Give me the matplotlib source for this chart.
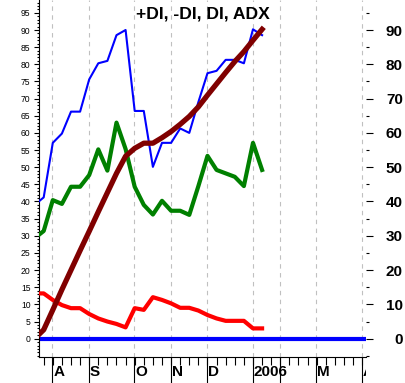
import numpy as np
import matplotlib
matplotlib.use('Agg')
import matplotlib.pyplot as plt
from matplotlib.ticker import FixedLocator, MultipleLocator, NullFormatter

plt.rcParams['font.family'] = ['Liberation Sans', 'DejaVu Sans']

# Weekly bars; bar -1 is the partial one cut by the left edge
weeks = np.arange(-1, 25)
plus_di = [39, 41.2, 57.1, 59.8, 66.2, 66.2, 75.6, 80.3, 81, 88.5, 90, 66.4, 66.4,
           50.1, 57.1, 57.1, 61.3, 60, 69, 77.4, 78.1, 81.3, 81.3, 80.3, 90.2, 88.5]
minus_di = [13.2, 13.2, 11.3, 9.8, 8.9, 8.9, 7.2, 5.9, 5, 4.3, 3.3, 8.9, 8.4,
            12.1, 11.3, 10.3, 9.0, 9.0, 8.2, 6.9, 5.9, 5.2, 5.2, 5.2, 3.0, 3.0]
di = [29.3, 31.4, 40.4, 39.3, 44.3, 44.3, 47.7, 55.2, 49, 63, 55.3, 44.3, 39,
      36.2, 40.2, 37.3, 37.3, 36.1, 44.5, 53.3, 49.2, 48.2, 47.2, 44.5, 57.1, 49.2]
adx = [0, 2.6, 8.4, 14.3, 20, 25.7, 31.3, 37, 42.6, 48.2, 53.2, 55.5, 57, 57,
       58.6, 60.4, 62.5, 64.8, 67.6, 71, 74.3, 77.6, 80.8, 83.7, 87, 90.2]
baseline = 0.0

# first bar of each month (bar index) and its label
month_bar = [1, 5, 10, 14, 18, 23, 26, 30, 35]
month_lab = ['A', 'S', 'O', 'N', 'D', '2006', '', 'M', 'A']
month_pos = [b - 0.05 for b in month_bar]

W, H = 405, 383
fig = plt.figure(figsize=(W / 100, H / 100), dpi=100)
left, right, bottom = 39 / W, 366 / W, 26 / H
ax = fig.add_axes([left, bottom, right - left, 1 - bottom])
xlim = (-0.516, 35.42)
ylim = (-5.34, 98.75)

# grid first
for p in month_pos:
    ax.axvline(p, color='#c0c0c0', lw=0.8, ls=(0, (4, 4)), zorder=1)

ax.axhline(baseline, color='#0000ff', lw=3.0, zorder=2, solid_capstyle='butt')
ax.plot(weeks, plus_di, color='#0000ff', lw=1.5, zorder=3)
ax.plot(weeks, minus_di, color='#ff0000', lw=3.0, zorder=4)
ax.plot(weeks, di, color='#008000', lw=3.0, zorder=5)
ax.plot(weeks, adx, color='#800000', lw=3.8, zorder=6)

ax.set_xlim(*xlim)
ax.set_ylim(*ylim)
for s in ['top', 'right']:
    ax.spines[s].set_visible(False)
for s in ['left', 'bottom']:
    ax.spines[s].set_linewidth(0.8)

# bottom axis: weekly minor ticks, long month ticks
ax.xaxis.set_major_locator(FixedLocator(month_pos))
ax.xaxis.set_minor_locator(FixedLocator(np.arange(0, 36)))
ax.xaxis.set_major_formatter(NullFormatter())
ax.tick_params(axis='x', which='major', direction='out', length=19, width=0.8)
ax.tick_params(axis='x', which='minor', direction='out', length=5.8, width=0.8)

# left axis
ax.yaxis.set_major_locator(FixedLocator(np.arange(0, 100, 5)))
ax.yaxis.set_minor_locator(MultipleLocator(1))
ax.tick_params(axis='y', which='major', direction='out', length=3.6, width=0.8,
               labelsize=6.2, pad=2.5)
ax.tick_params(axis='y', which='minor', direction='out', length=1.8, width=0.8)

# right axis
ax2 = ax.twinx()
ax2.set_ylim(*ylim)
for s in ax2.spines.values():
    s.set_visible(False)
ax2.yaxis.set_major_locator(FixedLocator(np.arange(0, 100, 10)))
ax2.yaxis.set_minor_locator(FixedLocator(np.arange(-5, 100, 10)))
ax2.tick_params(axis='y', which='major', direction='out', length=5, width=0.8,
                labelsize=11, pad=21.5)
ax2.tick_params(axis='y', which='minor', direction='out', length=2, width=0.8)
for t in ax2.get_yticklabels():
    t.set_fontweight('bold')
    t.set_horizontalalignment('right')

ax.text(0.5, 1 - 14 / 357, '+DI, -DI, DI, ADX', transform=ax.transAxes,
        ha='center', va='center', fontsize=12.6, fontweight='bold')

# month labels, clipped at the right edge of the plot
strip = fig.add_axes([left, 0, right - left, bottom])
strip.set_xlim(*xlim)
strip.set_ylim(0, 1)
strip.axis('off')
for p, lab in zip(month_pos, month_lab):
    strip.text(p + 0.1, 0.42, lab, ha='left', va='center', fontsize=11,
               fontweight='bold', clip_on=True)

fig.savefig('out.png', dpi=100)
